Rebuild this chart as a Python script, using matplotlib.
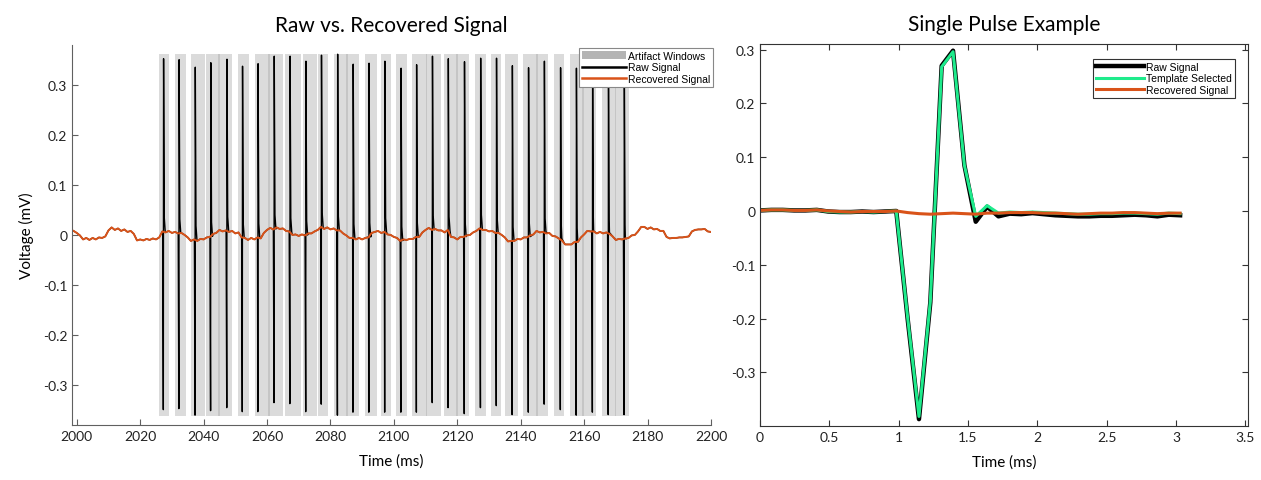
import numpy as np
import matplotlib
matplotlib.use('Agg')
from matplotlib import pyplot as plt
from matplotlib.patches import Patch

plt.rcParams['font.family'] = ['Lato', 'DejaVu Sans']

# ---- left panel data ----
# recovered signal, 1 ms steps from 1999 to 2200 ms
rec_t = np.arange(1999, 2201)
rec_v = [
    0.008, 0.004, -0.001, -0.009, -0.006, -0.010, -0.006, -0.009, -0.005, -0.006,
    -0.003, 0.009, 0.015, 0.010, 0.013, 0.008, 0.011, 0.006, 0.008, 0.002,
    -0.011, -0.009, -0.011, -0.008, -0.010, -0.007, -0.009, -0.005, 0.007, 0.005,
    0.008, 0.004, 0.006, 0.003, 0.004, 0.000, -0.005, -0.012, -0.009, -0.012,
    -0.008, -0.009, -0.005, -0.004, 0.002, 0.004, 0.010, 0.007, 0.009, 0.006,
    0.008, 0.003, 0.005, -0.005, -0.006, -0.010, -0.006, -0.009, -0.005, -0.007,
    0.004, 0.010, 0.014, 0.011, 0.015, 0.012, 0.013, 0.008, 0.007, 0.000,
    0.001, -0.002, 0.001, -0.001, 0.003, 0.003, 0.007, 0.010, 0.016, 0.012,
    0.015, 0.011, 0.013, 0.009, 0.009, 0.003, -0.001, -0.006, -0.006, -0.009,
    -0.006, -0.009, -0.006, -0.005, 0.004, 0.006, 0.008, 0.004, 0.006, 0.001,
    0.000, -0.004, -0.006, -0.012, -0.009, -0.010, -0.008, -0.008, -0.004, -0.004,
    0.005, 0.010, 0.014, 0.010, 0.012, 0.009, 0.009, 0.005, 0.010, -0.004,
    -0.005, -0.009, -0.004, -0.004, -0.001, 0.000, 0.005, 0.008, 0.013, 0.010,
    0.010, 0.007, 0.008, 0.004, 0.004, 0.000, -0.005, -0.013, -0.012, -0.012,
    -0.008, -0.009, -0.005, -0.005, -0.001, 0.001, 0.008, 0.005, 0.006, 0.003,
    0.004, -0.002, -0.003, -0.007, -0.011, -0.019, -0.019, -0.019, -0.014, -0.014,
    -0.005, 0.001, 0.008, 0.007, 0.007, 0.003, 0.006, 0.003, 0.005, 0.002,
    -0.003, -0.010, -0.008, -0.009, -0.007, -0.006, -0.001, 0.000, 0.007, 0.016,
    0.016, 0.012, 0.015, 0.011, 0.012, 0.008, 0.008, -0.004, -0.007, -0.006,
    -0.006, -0.005, -0.005, -0.004, -0.003, 0.007, 0.010, 0.011, 0.011, 0.012,
    0.007, 0.006,
]

pulse_t = [2027.3, 2032.2, 2037.3, 2042.2, 2047.3, 2052.2, 2057.1, 2062.2, 2067.2, 2072.2,
           2077.1, 2082.2, 2087.1, 2092.1, 2097.1, 2102.2, 2107.1, 2112.1, 2117.1, 2122.2,
           2127.3, 2132.3, 2137.3, 2142.4, 2147.4, 2152.5, 2157.5, 2162.6, 2167.6, 2172.6]
pulse_pos = [0.352, 0.350, 0.335, 0.344, 0.351, 0.337, 0.342, 0.357, 0.357, 0.347,
             0.359, 0.361, 0.341, 0.343, 0.347, 0.333, 0.340, 0.357, 0.352, 0.346,
             0.353, 0.353, 0.338, 0.334, 0.347, 0.334, 0.333, 0.350, 0.350, 0.350]
pulse_neg = [-0.349, -0.347, -0.360, -0.351, -0.345, -0.353, -0.353, -0.335, -0.337, -0.353,
             -0.338, -0.360, -0.354, -0.354, -0.354, -0.354, -0.354, -0.335, -0.345, -0.357,
             -0.345, -0.341, -0.359, -0.354, -0.338, -0.349, -0.360, -0.354, -0.359, -0.359]

win_start = [2025.9, 2031.0, 2036.0, 2040.9, 2044.6, 2051.0, 2056.1, 2060.3, 2065.7, 2071.2,
             2076.0, 2081.0, 2085.0, 2090.8, 2095.8, 2100.8, 2105.8, 2110.0, 2115.7, 2119.6,
             2125.5, 2130.5, 2135.2, 2140.8, 2144.8, 2150.4, 2155.5, 2159.4, 2165.7, 2169.6]
win_end = [2029.2, 2034.3, 2040.4, 2045.2, 2049.1, 2054.2, 2060.8, 2065.0, 2070.8, 2075.9,
           2079.2, 2085.6, 2088.9, 2094.7, 2099.0, 2104.0, 2110.6, 2115.0, 2120.2, 2123.6,
           2129.0, 2133.8, 2139.1, 2145.3, 2148.7, 2153.8, 2160.0, 2163.8, 2170.2, 2174.0]
win_lo, win_hi = -0.362, 0.362

# ---- right panel data (one artifact window, ~12.2 kHz samples) ----
sp_t = np.arange(38) * 0.0819
sp_raw = [0.001, 0.002, 0.002, 0.001, 0.001, 0.002, -0.001, -0.002, -0.002, -0.001,
          -0.002, -0.001, 0.000, -0.200, -0.387, -0.170, 0.270, 0.298, 0.085, -0.020,
          0.008, -0.010, -0.005, -0.006, -0.004, -0.006, -0.008, -0.009, -0.010, -0.010,
          -0.009, -0.009, -0.008, -0.007, -0.008, -0.010, -0.007, -0.008]
sp_tmpl = [0.001, 0.002, 0.002, 0.001, 0.001, 0.002, -0.001, -0.002, -0.002, -0.001,
           -0.002, -0.001, 0.000, -0.198, -0.382, -0.168, 0.268, 0.296, 0.085, -0.010,
           0.010, -0.004, -0.002, -0.003, -0.002, -0.003, -0.004, -0.005, -0.006, -0.006,
           -0.005, -0.005, -0.004, -0.004, -0.005, -0.006, -0.004, -0.005]
sp_rec = [0.001, 0.002, 0.002, 0.001, 0.001, 0.002, 0.000, -0.001, -0.002, -0.001,
          -0.001, -0.001, 0.000, -0.003, -0.005, -0.006, -0.005, -0.004, -0.005, -0.006,
          -0.004, -0.004, -0.003, -0.003, -0.003, -0.004, -0.004, -0.005, -0.006, -0.005,
          -0.004, -0.004, -0.003, -0.003, -0.004, -0.005, -0.004, -0.004]

orange = '#D95319'
green = '#1EEB8C'

fig = plt.figure(figsize=(12.61, 4.81), dpi=100)

# ---------------- left ----------------
ax1 = fig.add_axes([0.0571, 0.114, 0.5067, 0.791])
for s, e in zip(win_start, win_end):
    ax1.axvspan(s, e, ymin=(win_lo + 0.38) / 0.76, ymax=(win_hi + 0.38) / 0.76,
                color='#a6a6a6', alpha=0.4, lw=0)

# raw = recovered with the stimulation spike at each pulse
rt = list(rec_t.astype(float))
rv = list(rec_v)
for tp, p, n in zip(pulse_t, pulse_pos, pulse_neg):
    b = np.interp(tp, rec_t, rec_v)
    rt += [tp - 0.2, tp, tp + 0.08, tp + 0.3, tp + 0.6]
    rv += [b, n, p, b + 0.028, b]
order = np.argsort(rt, kind='stable')
raw_t = np.array(rt)[order]
raw_v = np.array(rv)[order]
ax1.plot(raw_t, raw_v, color='black', lw=1.0)
ax1.plot(rec_t, rec_v, color=orange, lw=1.4)

ax1.set_xlim(1998.5, 2200)
ax1.set_ylim(-0.38, 0.38)
ax1.set_xticks(np.arange(2000, 2201, 20))
ax1.set_yticks([-0.3, -0.2, -0.1, 0, 0.1, 0.2, 0.3])
ax1.set_yticklabels(['-0.3', '-0.2', '-0.1', '0', '0.1', '0.2', '0.3'])
ax1.spines['top'].set_visible(False)
ax1.spines['right'].set_visible(False)
for sp in ['left', 'bottom']:
    ax1.spines[sp].set_color('#606060')
ax1.tick_params(direction='in', length=4, colors='#606060', labelcolor='#222222', labelsize=10)
ax1.set_xlabel('Time (ms)', fontsize=11, labelpad=8)
ax1.set_ylabel('Voltage (mV)', fontsize=11, labelpad=6)
ax1.set_title('Raw vs. Recovered Signal', fontsize=15, pad=10)

h1 = [Patch(facecolor='#b4b4b4', edgecolor='none'),
      plt.Line2D([], [], color='black', lw=1.8),
      plt.Line2D([], [], color=orange, lw=1.8)]
leg1 = ax1.legend(h1, ['Artifact Windows', 'Raw Signal', 'Recovered Signal'],
                  loc='upper right', bbox_to_anchor=(1.005, 0.995),
                  prop={'family': 'Liberation Sans', 'size': 7.5},
                  fancybox=False, framealpha=1, edgecolor='#888888',
                  handlelength=4.2, handletextpad=0.2, borderpad=0.3,
                  labelspacing=0.15, borderaxespad=0.1)
leg1.get_frame().set_linewidth(0.8)

# ---------------- right ----------------
ax2 = fig.add_axes([0.6027, 0.112, 0.387, 0.794])
ax2.plot(sp_t, sp_raw, color='black', lw=3.2, label='Raw Signal')
ax2.plot(sp_t, sp_tmpl, color=green, lw=2.2, label='Template Selected')
ax2.plot(sp_t, sp_rec, color=orange, lw=2.2, label='Recovered Signal')
ax2.set_xlim(0, 3.52)
ax2.set_ylim(-0.4, 0.31)
ax2.set_xticks([0, 0.5, 1, 1.5, 2, 2.5, 3, 3.5])
ax2.set_xticklabels(['0', '0.5', '1', '1.5', '2', '2.5', '3', '3.5'])
ax2.set_yticks([-0.3, -0.2, -0.1, 0, 0.1, 0.2, 0.3])
ax2.set_yticklabels(['-0.3', '-0.2', '-0.1', '0', '0.1', '0.2', '0.3'])
for sp in ax2.spines.values():
    sp.set_color('#333333')
ax2.tick_params(direction='in', length=4, top=True, right=True,
                colors='#333333', labelcolor='#222222', labelsize=10)
ax2.set_xlabel('Time (ms)', fontsize=11, labelpad=8)
ax2.set_title('Single Pulse Example', fontsize=15, pad=10)
leg2 = ax2.legend(loc='upper right', bbox_to_anchor=(0.975, 0.965),
                  prop={'family': 'Liberation Sans', 'size': 7.5},
                  fancybox=False, framealpha=1, edgecolor='#333333',
                  handlelength=4.6, handletextpad=0.2, borderpad=0.3,
                  labelspacing=0.15, borderaxespad=0.1)
leg2.get_frame().set_linewidth(0.8)

fig.savefig('out.png', dpi=100)
